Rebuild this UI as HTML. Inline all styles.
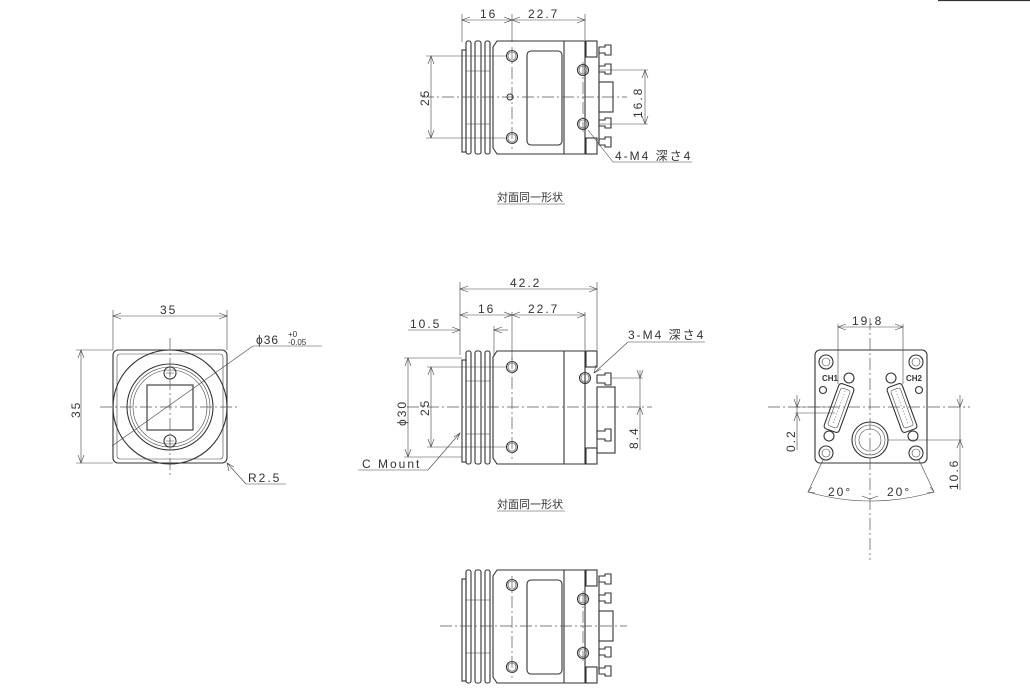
<!DOCTYPE html>
<html><head><meta charset="utf-8"><style>
html,body{margin:0;padding:0;background:#fff;width:1030px;height:700px;overflow:hidden}
svg{display:block}
text{font-family:"Liberation Sans","Noto Sans CJK JP",sans-serif;font-size:12px;fill:#333;letter-spacing:2px}
.l{stroke:#333;stroke-width:1.1;fill:none}
.t{stroke:#444;stroke-width:0.6;fill:none}
.c{stroke:#555;stroke-width:0.7;fill:none;stroke-dasharray:12 3 2 3}
.a{fill:none;stroke:#444;stroke-width:0.6}
</style></head><body>
<svg width="1030" height="700" viewBox="0 0 1030 700">
<defs>
<g id="fins">
 <rect class="l" x="0" y="-47" width="4" height="102"/>
 <rect class="l" x="4" y="-56" width="5" height="113" rx="2"/>
 <rect class="l" x="13" y="-56" width="6" height="113" rx="2"/>
 <rect class="l" x="23" y="-56" width="5" height="113" rx="2"/>
 <line class="t" x1="4" y1="-26" x2="28" y2="-26"/><line class="t" x1="4" y1="27" x2="28" y2="27"/>
 <path class="l" d="M35,-56 L123,-56 L123,57 L35,57 L31,51 L31,-50 Z"/>
 <line class="l" x1="102" y1="-56" x2="102" y2="57"/>
 <rect class="l" x="124" y="-56" width="11" height="16"/>
 <rect class="l" x="124" y="41" width="11" height="16"/>
</g>
<g id="conns">
 <line class="l" x1="137" y1="-44" x2="137" y2="45"/>
 <path class="l" d="M137,-50 h6 v-2 h6 v10 h-6 v-2 h-6 z"/>
 <path class="l" d="M137,-31 h6 v-2 h6 v10 h-6 v-2 h-6 z"/>
 <path class="l" d="M137,23 h6 v-2 h6 v10 h-6 v-2 h-6 z"/>
 <path class="l" d="M137,42 h6 v-2 h6 v10 h-6 v-2 h-6 z"/>
 <rect class="l" x="137" y="-15" width="14" height="30"/>
</g>
<g id="hole"><circle class="l" r="5.5"/><circle class="t" r="4"/></g>
</defs>

<line x1="938" y1="0.5" x2="1030" y2="0.5" stroke="#333" stroke-width="1.2"/>

<!-- TOP VIEW -->
<g transform="translate(462,97)">
 <use href="#fins"/><use href="#conns"/>
 <rect class="l" x="65" y="-46" width="35" height="94" rx="4"/>
 <use href="#hole" x="50" y="-41"/><use href="#hole" x="50" y="41"/>
 <use href="#hole" x="121" y="-27"/><use href="#hole" x="121" y="27"/>
 <circle class="l" cx="48" cy="0" r="3"/>
 <line class="c" x1="-40" y1="0" x2="165" y2="0"/>
 <line class="c" x1="50" y1="-50" x2="50" y2="52"/>
 <line class="c" x1="121" y1="-35" x2="121" y2="35"/>
</g>
<line class="t" x1="462" y1="14" x2="462" y2="42"/><line class="t" x1="512" y1="14" x2="512" y2="42"/><line class="t" x1="585" y1="14" x2="585" y2="40"/>
<line class="t" x1="462" y1="20" x2="585" y2="20"/>
<path class="a" d="M470,17 L462,20 L470,23 M504,17 L512,20 L504,23 M520,17 L512,20 L520,23 M577,17 L585,20 L577,23"/>
<text x="480" y="18">16</text><text x="528" y="18">22.7</text>
<line class="t" x1="426" y1="56" x2="506" y2="56"/><line class="t" x1="426" y1="138" x2="506" y2="138"/>
<line class="t" x1="431" y1="56" x2="431" y2="138"/>
<path class="a" d="M428,64 L431,56 L434,64 M428,130 L431,138 L434,130"/>
<text transform="translate(429,106) rotate(-90)">25</text>
<line class="t" x1="600" y1="70" x2="648" y2="70"/><line class="t" x1="600" y1="124" x2="648" y2="124"/>
<line class="t" x1="645" y1="70" x2="645" y2="124"/>
<path class="a" d="M642,78 L645,70 L648,78 M642,116 L645,124 L648,116"/>
<text transform="translate(642,118) rotate(-90)">16.8</text>
<line class="t" x1="588" y1="130" x2="613" y2="162"/><line class="t" x1="613" y1="162" x2="692" y2="162"/>
<text x="615" y="160">4-M4 深さ4</text>
<text x="497" y="201" style="font-size:11px;letter-spacing:0">対面同一形状</text>
<line class="t" x1="497" y1="204" x2="565" y2="204"/>

<!-- MIDDLE VIEW -->
<g transform="translate(462,407)">
 <use href="#fins"/>
 <use href="#hole" x="50" y="-40"/><use href="#hole" x="50" y="40"/>
 <use href="#hole" x="123" y="-29"/>
 <path class="l" d="M135,-32 h8 v-2 h6 v12 h-6 v-2 h-8 z"/>
 <path class="l" d="M135,24 h8 v-2 h6 v12 h-6 v-2 h-8 z"/>
 <rect class="l" x="135" y="-20" width="18" height="66"/>
 <line class="c" x1="-55" y1="0" x2="190" y2="0"/>
 <line class="c" x1="50" y1="-50" x2="50" y2="52"/>
</g>
<line class="t" x1="460" y1="282" x2="460" y2="355"/><line class="t" x1="597" y1="282" x2="597" y2="350"/>
<line class="t" x1="460" y1="289" x2="597" y2="289"/>
<path class="a" d="M468,286 L460,289 L468,292 M589,286 L597,289 L589,292"/>
<text x="510" y="287">42.2</text>
<line class="t" x1="512" y1="312" x2="512" y2="360"/><line class="t" x1="585" y1="312" x2="585" y2="350"/>
<line class="t" x1="460" y1="315" x2="585" y2="315"/>
<path class="a" d="M468,312 L460,315 L468,318 M504,312 L512,315 L504,318 M520,312 L512,315 L520,318 M577,312 L585,315 L577,318"/>
<text x="478" y="313">16</text><text x="528" y="313">22.7</text>
<line class="t" x1="494" y1="326" x2="494" y2="355"/>
<line class="t" x1="408" y1="330" x2="460" y2="330"/><line class="t" x1="494" y1="330" x2="508" y2="330"/>
<path class="a" d="M452,327 L460,330 L452,333 M502,327 L494,330 L502,333"/>
<text x="410" y="328">10.5</text>
<line class="t" x1="404" y1="358" x2="462" y2="358"/><line class="t" x1="404" y1="457" x2="462" y2="457"/>
<line class="t" x1="408" y1="358" x2="408" y2="457"/>
<path class="a" d="M405,366 L408,358 L411,366 M405,449 L408,457 L411,449"/>
<text transform="translate(406,426) rotate(-90)">ϕ30</text>
<line class="t" x1="427" y1="367" x2="506" y2="367"/><line class="t" x1="427" y1="447" x2="506" y2="447"/>
<line class="t" x1="431" y1="367" x2="431" y2="447"/>
<path class="a" d="M428,375 L431,367 L434,375 M428,439 L431,447 L434,439"/>
<text transform="translate(429,416) rotate(-90)">25</text>
<line class="t" x1="594" y1="373" x2="628" y2="342"/><line class="t" x1="628" y1="342" x2="705" y2="342"/>
<path class="a" d="M596,365 L594,373 L601,369"/>
<text x="628" y="339">3-M4 深さ4</text>
<line class="t" x1="612" y1="378" x2="643" y2="378"/>
<line class="t" x1="640" y1="370" x2="640" y2="450"/>
<path class="a" d="M637,370 L640,378 L643,370 M637,415 L640,407 L643,415"/>
<text transform="translate(638,449) rotate(-90)">8.4</text>
<line class="t" x1="460" y1="433" x2="428" y2="470"/><line class="t" x1="428" y1="470" x2="358" y2="470"/>
<path class="a" d="M454,437 L460,433 L457,440"/>
<text x="362" y="468">C Mount</text>
<text x="497" y="508" style="font-size:11px;letter-spacing:0">対面同一形状</text>
<line class="t" x1="497" y1="511" x2="565" y2="511"/>

<!-- BOTTOM VIEW -->
<g transform="translate(462,626)">
 <use href="#fins"/><use href="#conns"/>
 <rect class="l" x="65" y="-46" width="35" height="94" rx="4"/>
 <use href="#hole" x="50" y="-41"/><use href="#hole" x="50" y="41"/>
 <use href="#hole" x="121" y="-27"/><use href="#hole" x="121" y="27"/>
 <line class="c" x1="-22" y1="0" x2="165" y2="0"/>
 <line class="c" x1="50" y1="-50" x2="50" y2="52"/>
 <line class="c" x1="121" y1="-35" x2="121" y2="35"/>
</g>

<!-- FRONT VIEW -->
<rect class="l" x="113" y="350" width="114" height="113" rx="5"/>
<rect class="t" x="117" y="354" width="106" height="105" rx="3"/>
<circle class="l" cx="170" cy="407" r="57" stroke-width="1.6"/>
<circle class="l" cx="170" cy="407" r="43"/>
<circle class="t" cx="170" cy="407" r="40"/>
<circle class="t" cx="170" cy="407" r="37"/>
<rect class="l" x="147" y="385" width="46" height="45"/>
<circle class="l" cx="170" cy="373" r="6"/><circle class="l" cx="170" cy="441" r="6"/>
<path class="t" d="M166,373 h8 M170,369 v8 M166,441 h8 M170,437 v8"/>
<line class="c" x1="100" y1="407" x2="240" y2="407"/>
<line class="c" x1="170" y1="338" x2="170" y2="478"/>
<line class="t" x1="113" y1="310" x2="113" y2="350"/><line class="t" x1="227" y1="310" x2="227" y2="350"/>
<line class="t" x1="113" y1="316" x2="227" y2="316"/>
<path class="a" d="M121,313 L113,316 L121,319 M219,313 L227,316 L219,319"/>
<text x="160" y="314">35</text>
<line class="t" x1="76" y1="350" x2="113" y2="350"/><line class="t" x1="76" y1="463" x2="113" y2="463"/>
<line class="t" x1="81" y1="350" x2="81" y2="463"/>
<path class="a" d="M78,358 L81,350 L84,358 M78,455 L81,463 L84,455"/>
<text transform="translate(80,418) rotate(-90)">35</text>
<line class="t" x1="112" y1="446" x2="253" y2="346"/><line class="t" x1="253" y1="346" x2="322" y2="346"/>
<text x="256" y="344" style="letter-spacing:1px">ϕ36</text>
<text x="288" y="337" style="font-size:8px;letter-spacing:0">+0</text>
<text x="288" y="345" style="font-size:8px;letter-spacing:0">-0.05</text>
<line class="t" x1="227" y1="463" x2="246" y2="484"/><line class="t" x1="246" y1="484" x2="286" y2="484"/>
<path class="a" d="M229,471 L227,463 L234,467"/>
<text x="248" y="482">R2.5</text>

<!-- REAR VIEW -->
<rect class="l" x="815" y="350" width="112" height="113" rx="5" stroke-width="1.4"/>
<g>
 <circle class="l" cx="826" cy="362" r="7"/><circle class="t" cx="826" cy="362" r="4"/>
 <circle class="l" cx="916" cy="362" r="7"/><circle class="t" cx="916" cy="362" r="4"/>
 <circle class="l" cx="826" cy="453" r="7"/><circle class="t" cx="826" cy="453" r="4"/>
 <circle class="l" cx="916" cy="453" r="7"/><circle class="t" cx="916" cy="453" r="4"/>
 <circle class="l" cx="823" cy="390" r="3.5"/><circle class="l" cx="919" cy="390" r="3.5"/>
 <circle class="l" cx="849" cy="378" r="5"/><circle class="l" cx="891" cy="378" r="5"/>
 <circle class="l" cx="829" cy="436" r="5"/><circle class="l" cx="913" cy="436" r="5"/>
 <g transform="translate(839,408) rotate(20)">
  <rect class="l" x="-8" y="-24" width="16" height="48" rx="3"/>
  <rect class="t" x="-5" y="-20" width="10" height="40" rx="2"/>
  <line class="t" x1="0" y1="-18" x2="0" y2="18" stroke-dasharray="1 2"/>
 </g>
 <g transform="translate(902,408) rotate(-20)">
  <rect class="l" x="-8" y="-24" width="16" height="48" rx="3"/>
  <rect class="t" x="-5" y="-20" width="10" height="40" rx="2"/>
  <line class="t" x1="0" y1="-18" x2="0" y2="18" stroke-dasharray="1 2"/>
 </g>
 <circle class="l" cx="870" cy="440" r="18"/><circle class="t" cx="870" cy="440" r="15"/><circle class="t" cx="870" cy="440" r="11"/>
 <text x="822" y="381" style="font-size:8px;font-weight:bold;letter-spacing:0">CH1</text>
 <text x="906" y="381" style="font-size:8px;font-weight:bold;letter-spacing:0">CH2</text>
</g>
<line class="c" x1="768" y1="407" x2="970" y2="407"/>
<line class="c" x1="870" y1="318" x2="870" y2="560"/>
<line class="t" x1="838" y1="324" x2="838" y2="384"/><line class="t" x1="903" y1="324" x2="903" y2="384"/>
<line class="t" x1="838" y1="327" x2="903" y2="327"/>
<path class="a" d="M846,324 L838,327 L846,330 M895,324 L903,327 L895,330"/>
<text x="852" y="325">19.8</text>
<line class="t" x1="795" y1="407" x2="835" y2="407"/><line class="t" x1="795" y1="413" x2="835" y2="413"/>
<line class="t" x1="797" y1="395" x2="797" y2="450"/>
<path class="a" d="M794,399 L797,407 L800,399 M794,421 L797,413 L800,421"/>
<text transform="translate(795,452) rotate(-90)">0.2</text>
<line class="t" x1="888" y1="440" x2="962" y2="440"/>
<line class="t" x1="960" y1="395" x2="960" y2="490"/>
<path class="a" d="M957,399 L960,407 L963,399 M957,448 L960,440 L963,448"/>
<text transform="translate(958,490) rotate(-90)">10.6</text>
<line class="t" x1="823" y1="460" x2="808" y2="492"/><line class="t" x1="919" y1="460" x2="934" y2="492"/>
<path class="t" d="M808,492 Q870,510 934,492"/>
<path class="a" d="M812,487 L808,492 L815,493 M862,496 L870,499 L878,496 M930,487 L934,492 L927,493"/>
<text x="828" y="496">20°</text><text x="887" y="496">20°</text>
</svg>
</body></html>
